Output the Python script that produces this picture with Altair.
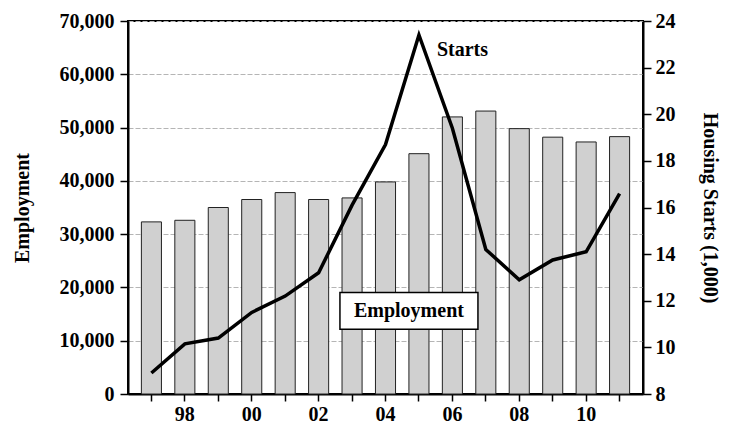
import altair as alt
import pandas as pd

years = list(range(1997, 2012))
employment = [32300, 32600, 35000, 36500, 37800, 36500, 36800, 39800,
              45100, 52000, 53100, 49800, 48200, 47300, 48300]
starts = [8.9, 10.15, 10.4, 11.5, 12.2, 13.2, 16.1, 18.7,
          23.4, 19.4, 14.2, 12.9, 13.75, 14.1, 16.6]

emp_ticks = list(range(0, 70001, 10000))
start_ticks = list(range(8, 25, 2))

# annotations (data coordinates)
emp_label_year = [2005]
emp_label_value = [15600]
emp_label_text = ["Employment"]
starts_label_year = [2005]
starts_label_value = [22.76]
starts_label_text = ["Starts"]

FONT = "Liberation Serif"

df = pd.DataFrame({"year": years, "employment": employment, "starts": starts})
emp_ann = pd.DataFrame({"year": emp_label_year, "employment": emp_label_value,
                        "label": emp_label_text})
st_ann = pd.DataFrame({"year": starts_label_year, "starts": starts_label_value,
                       "label": starts_label_text})

x_scale = alt.Scale(paddingInner=0.4, paddingOuter=0.4)

x_enc = alt.X(
    "year:O",
    scale=x_scale,
    axis=alt.Axis(
        title=None,
        labelExpr="datum.value % 2 == 0 ? substring(toString(datum.value), 2, 4) : ''",
        labelAngle=0,
        tickSize=7,
        tickWidth=1.5,
        labelPadding=3,
        domainWidth=2,
        grid=False,
    ),
)

y_left = alt.Y(
    "employment:Q",
    scale=alt.Scale(domain=[0, 70000], nice=False, zero=True),
    axis=alt.Axis(
        title="Employment",
        values=emp_ticks,
        labelExpr="format(datum.value, ',d')",
        grid=True,
        gridDash=[5, 2],
        gridColor="#b5b5b5",
        gridWidth=1,
        tickSize=8,
        tickWidth=1.5,
        labelPadding=6,
        titlePadding=27,
        domainWidth=2,
    ),
)

y_right = alt.Y(
    "starts:Q",
    scale=alt.Scale(domain=[8, 24], nice=False, zero=False),
    axis=alt.Axis(
        orient="right",
        title="Housing Starts (1,000)",
        values=start_ticks,
        grid=False,
        tickSize=8,
        tickWidth=1.5,
        labelPadding=4,
        titlePadding=24,
        domainWidth=2,
    ),
)

bars = alt.Chart(df).mark_bar(
    fill="#d0d0d0", stroke="#222222", strokeWidth=1
).encode(x=x_enc, y=y_left)

box = alt.Chart(emp_ann).mark_point(
    shape="M-1,-0.265L1,-0.265L1,0.265L-1,0.265Z",
    size=138 ** 2,
    filled=True,
    fill="white",
    stroke="black",
    strokeWidth=1.5,
    opacity=1,
    fillOpacity=1,
    strokeOpacity=1,
    xOffset=-10,
).encode(x=x_enc, y=y_left)

box_text = alt.Chart(emp_ann).mark_text(
    font=FONT, fontSize=20, fontWeight="bold", color="black",
    align="center", baseline="middle", dx=-10,
).encode(x=x_enc, y=y_left, text="label:N")

line = alt.Chart(df).mark_line(color="black", strokeWidth=3.5).encode(
    x=x_enc, y=y_right
)

starts_text = alt.Chart(st_ann).mark_text(
    font=FONT, fontSize=20, fontWeight="bold", color="black",
    align="left", baseline="middle", dx=18,
).encode(x=x_enc, y=y_right, text="label:N")

left = alt.layer(bars, box, box_text)
right = alt.layer(line, starts_text)

chart = (
    alt.layer(left, right)
    .resolve_scale(y="independent")
    .properties(
        width=515,
        height=373,
        autosize=alt.AutoSizeParams(type="none"),
        padding={"left": 120, "top": 13, "right": 80, "bottom": 30},
        background="white",
    )
    .configure_view(stroke="black", strokeWidth=2)
    .configure_axis(
        labelFont=FONT,
        titleFont=FONT,
        labelFontWeight="bold",
        titleFontWeight="bold",
        labelFontSize=20,
        titleFontSize=20,
        labelColor="black",
        titleColor="black",
        domainColor="black",
        tickColor="black",
    )
)

chart.save("out.html", embed_options={"renderer": "svg", "actions": False})
